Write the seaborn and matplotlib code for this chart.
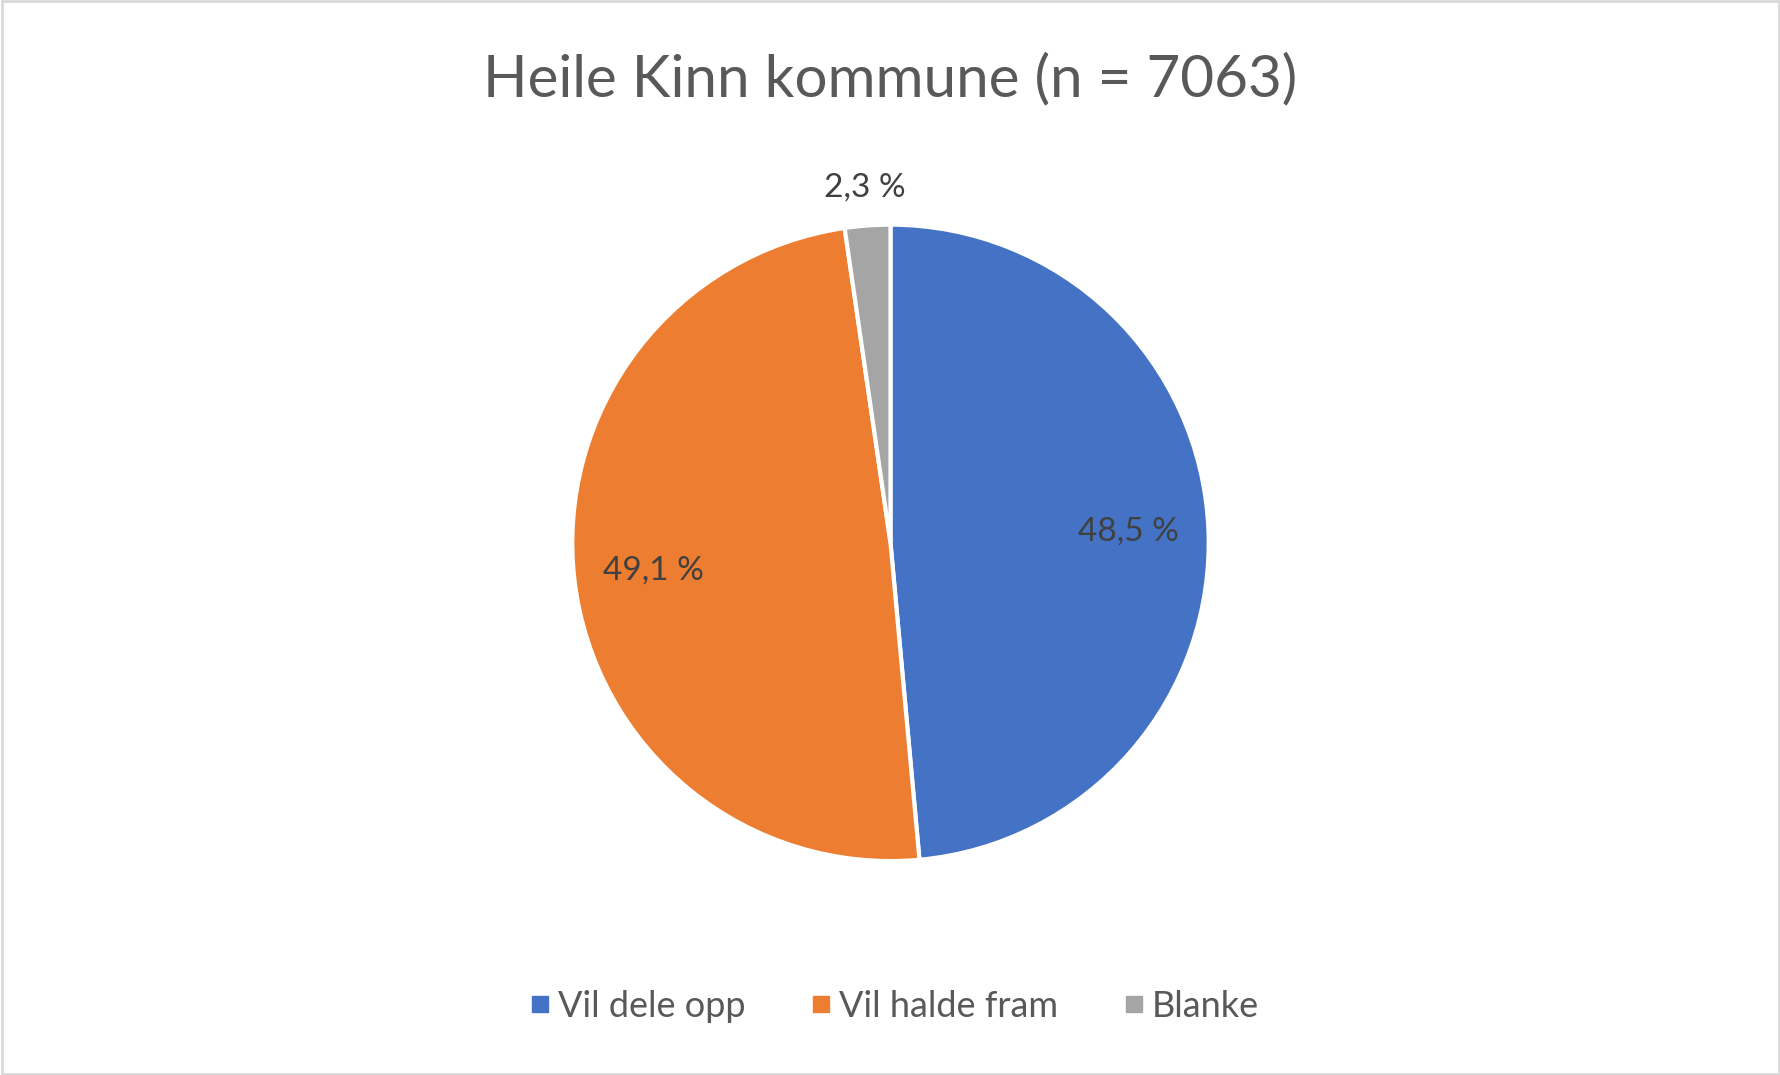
import numpy as np
import matplotlib
matplotlib.use('Agg')
import matplotlib.pyplot as plt
from matplotlib.lines import Line2D
from matplotlib.patches import Rectangle
import seaborn as sns

sns.set_theme(style='white')
plt.rcParams['font.family'] = ['Lato', 'DejaVu Sans']

# ── Data ──────────────────────────────────────────────────────────────────────
labels = ['Vil dele opp', 'Vil halde fram', 'Blanke']
values = [48.5, 49.1, 2.3]
pct_text = ['48,5 %', '49,1 %', '2,3 %']
colors = ['#4472C4', '#ED7D31', '#A5A5A5']
TXT = '#595959'

fig = plt.figure(figsize=(17.81, 10.75), dpi=100)
fig.patch.set_facecolor('white')
fig.patches.append(Rectangle((0.001, 0.001), 0.998, 0.998, transform=fig.transFigure,
                             fill=False, edgecolor='#D9D9D9', linewidth=2))

ax = fig.add_axes([0.5 - 0.1787, 0.495 - 0.296, 0.3574, 0.592])
wedges, _ = ax.pie(values, colors=colors, startangle=90, counterclock=False,
                   wedgeprops={'edgecolor': 'white', 'linewidth': 3})
ax.set_xlim(-1, 1)
ax.set_ylim(-1, 1)
ax.set_aspect('equal')

for w, t in zip(wedges, pct_text):
    ang = np.deg2rad((w.theta1 + w.theta2) / 2)
    dist = 1.12 if (w.theta2 - w.theta1) < 20 else 0.75
    ax.text(dist * np.cos(ang), dist * np.sin(ang), t, ha='center', va='center',
            fontsize=24, color='#404040')

fig.text(0.5, 0.926, 'Heile Kinn kommune (n = 7063)', ha='center', va='center',
         fontsize=42, color=TXT)

handles = [Line2D([0], [0], marker='s', linestyle='', markersize=11,
                  markerfacecolor=c, markeredgecolor=c) for c in colors]
fig.legend(handles, labels, loc='center', bbox_to_anchor=(0.5, 0.064), ncol=3,
           frameon=False, fontsize=26, labelcolor=TXT, handletextpad=0.0,
           handlelength=1.0, columnspacing=1.6)

plt.savefig('out.png', dpi=100, facecolor='white')
